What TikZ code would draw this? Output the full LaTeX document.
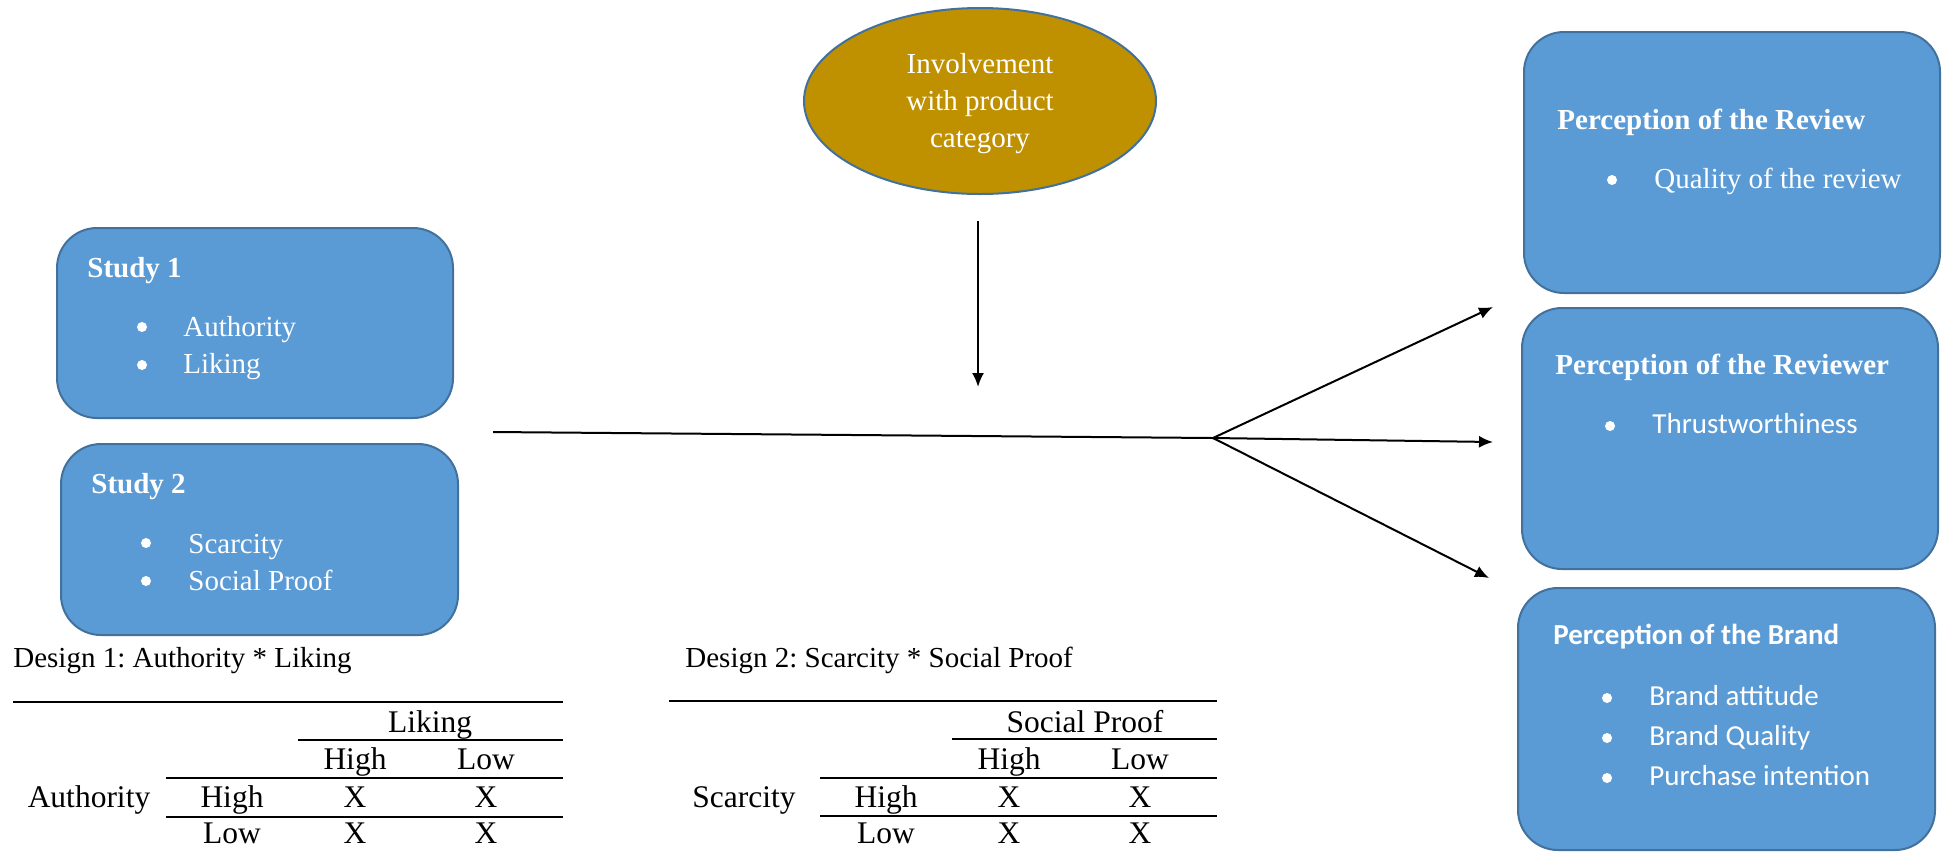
\documentclass[tikz,border=0pt]{standalone}
\usepackage{fontspec}
\setmainfont{Liberation Serif}
\newfontfamily\calibri{Carlito}
\usetikzlibrary{shapes.geometric,arrows.meta}
\frenchspacing

\definecolor{boxblue}{HTML}{5B9BD5}
\definecolor{boxedge}{HTML}{41719C}
\definecolor{gold}{HTML}{BF9000}

\begin{document}
\begin{tikzpicture}[x=0.5pt,y=-0.5pt,
    box/.style={draw=boxedge, fill=boxblue, line width=1pt, rounded corners=20pt, inner sep=0pt},
    txt/.style={anchor=base west, inner sep=0pt, text=white, font=\fontsize{14.5}{17}\selectfont},
    bul/.style={circle, fill=white, inner sep=0pt, minimum size=5pt},
    tab/.style={anchor=base, inner sep=0pt, font=\fontsize{15.75}{18}\selectfont},
    rule/.style={line width=1pt},
    arr/.style={line width=1pt, -{Latex[length=7pt,width=6pt]}}]
  \useasboundingbox (0,0) rectangle (1946,853);

  % studies
  \node[box, minimum width=198pt, minimum height=95pt] (study1) at (255,323) {};
  \node[txt, font=\fontsize{14.5}{17}\selectfont\bfseries] (s1head) at (87,277) {Study 1};
  \node[bul] (s1d1) at (142,327) {};
  \node[txt] (s1a) at (183,336) {Authority};
  \node[bul] (s1d2) at (142,365) {};
  \node[txt] (s1b) at (183,373) {Liking};

  \node[box, minimum width=198.5pt, minimum height=95.5pt] (study2) at (259.5,539.5) {};
  \node[txt, font=\fontsize{14.5}{17}\selectfont\bfseries] (s2head) at (91,493) {Study 2};
  \node[bul] (s2d1) at (146,543) {};
  \node[txt] (s2a) at (188,553) {Scarcity};
  \node[bul] (s2d2) at (146,581) {};
  \node[txt] (s2b) at (188,590) {Social Proof};

  % moderator
  \node[ellipse, draw=boxedge, fill=gold, line width=1pt, minimum width=176pt, minimum height=93pt,
    inner sep=0pt] (invol) at (980,101) {};
  \node[inner sep=0pt, text=white, align=center, font=\fontsize{14.5}{18.5}\selectfont] (involtxt) at (980,104)
    {Involvement\\with product\\category};

  % outcomes
  \node[box, minimum width=208pt, minimum height=130.5pt] (review) at (1732,162.5) {};
  \node[txt, font=\fontsize{14.5}{17}\selectfont\bfseries] (r1head) at (1557,129) {Perception of the Review};
  \node[bul] (r1d1) at (1612,180) {};
  \node[txt] (r1a) at (1654,188) {Quality of the review};

  \node[box, minimum width=208pt, minimum height=130.5pt] (reviewer) at (1730,438.5) {};
  \node[txt, font=\fontsize{14.5}{17}\selectfont\bfseries] (r2head) at (1555,374) {Perception of the Reviewer};
  \node[bul] (r2d1) at (1610,426) {};
  \node[txt, font=\fontsize{14.5}{17}\selectfont\calibri] (r2a) at (1652,433) {Thrustworthiness};

  \node[box, minimum width=208.5pt, minimum height=131pt] (brand) at (1726.5,719) {};
  \node[txt, font=\fontsize{14.5}{17}\selectfont\calibri\bfseries] (r3head) at (1553,644) {Perception of the Brand};
  \node[bul] (r3d1) at (1607,698) {};
  \node[txt, font=\fontsize{14.5}{17}\selectfont\calibri] (r3a) at (1649,705) {Brand attitude};
  \node[bul] (r3d2) at (1607,738) {};
  \node[txt, font=\fontsize{14.5}{17}\selectfont\calibri] (r3b) at (1649,745) {Brand Quality};
  \node[bul] (r3d3) at (1607,778) {};
  \node[txt, font=\fontsize{14.5}{17}\selectfont\calibri] (r3c) at (1649,785) {Purchase intention};

  % connectors
  \coordinate (src) at (493,432);
  \coordinate (fork) at (1213,438);
  \coordinate (modtop) at (978,221);
  \coordinate (modend) at (978,387);
  \coordinate (toreview) at (1493,307);
  \coordinate (toreviewer) at (1493,442);
  \coordinate (tobrand) at (1489,578);
  \draw[line width=1pt] (src) -- (fork);
  \draw[arr] (modtop) -- (modend);
  \draw[arr] (fork) -- (toreview);
  \draw[arr] (fork) -- (toreviewer);
  \draw[arr] (fork) -- (tobrand);

  % design 1
  \node[anchor=base west, inner sep=0pt, font=\fontsize{14.5}{17}\selectfont] (d1) at (13,667) {Design 1: Authority * Liking};
  \draw[rule] (13,702) -- (563,702);
  \node[tab] (d1col) at (430,732) {Liking};
  \draw[rule] (298,740) -- (563,740);
  \node[tab] (d1hi) at (355,769) {High};
  \node[tab] (d1lo) at (486,769) {Low};
  \draw[rule] (166,778) -- (563,778);
  \node[tab] (d1row) at (89,807) {Authority};
  \node[tab] (d1rh) at (232,807) {High};
  \node[tab] (d1x1) at (355,807) {X};
  \node[tab] (d1x2) at (486,807) {X};
  \draw[rule] (166,817) -- (563,817);
  \node[tab] (d1rl) at (232,843) {Low};
  \node[tab] (d1x3) at (355,843) {X};
  \node[tab] (d1x4) at (486,843) {X};

  % design 2
  \node[anchor=base west, inner sep=0pt, font=\fontsize{14.5}{17}\selectfont] (d2) at (685,667) {Design 2: Scarcity * Social Proof};
  \draw[rule] (669,701) -- (1217,701);
  \node[tab] (d2col) at (1085,732) {Social Proof};
  \draw[rule] (952,739) -- (1217,739);
  \node[tab] (d2hi) at (1009,769) {High};
  \node[tab] (d2lo) at (1140,769) {Low};
  \draw[rule] (820,778) -- (1217,778);
  \node[tab] (d2row) at (744,807) {Scarcity};
  \node[tab] (d2rh) at (886,807) {High};
  \node[tab] (d2x1) at (1009,807) {X};
  \node[tab] (d2x2) at (1140,807) {X};
  \draw[rule] (820,816) -- (1217,816);
  \node[tab] (d2rl) at (886,843) {Low};
  \node[tab] (d2x3) at (1009,843) {X};
  \node[tab] (d2x4) at (1140,843) {X};
\end{tikzpicture}
\end{document}
